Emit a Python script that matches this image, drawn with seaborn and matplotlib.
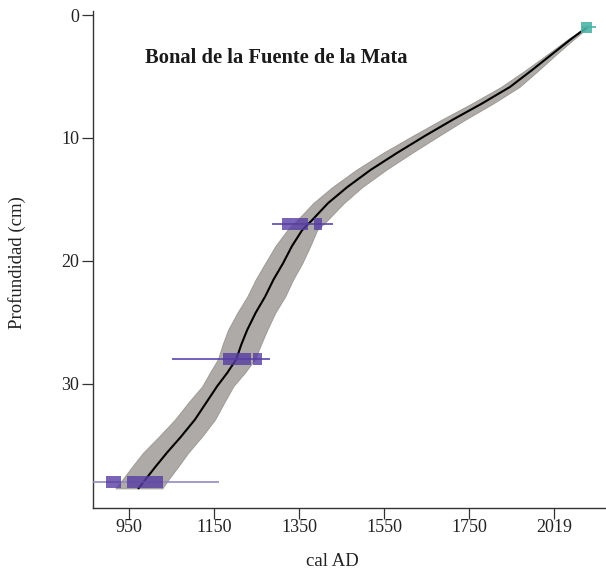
import matplotlib
matplotlib.use("Agg")
import numpy as np
import pandas as pd
import matplotlib.pyplot as plt
import seaborn as sns

# age-depth model
model_depth = [1.0, 2.0, 3.1, 4.5, 5.85, 7.2, 8.5, 9.85, 11.2, 12.6, 14.0, 15.3, 16.7, 17.5,
               18.8, 20.2, 21.5, 22.9, 24.2, 25.6, 26.8, 28.0, 29.1, 30.2, 31.5, 32.9,
               34.3, 35.6, 36.7, 37.8, 38.5]
model_median = [2027, 1988, 1948, 1897, 1846, 1780, 1712, 1645, 1581, 1518, 1463, 1418, 1380, 1357,
                1333, 1312, 1290, 1270, 1248, 1228, 1214, 1202, 1181, 1157, 1132, 1105,
                1072, 1039, 1013, 988, 972]
model_lo = [2024, 1981, 1938, 1882, 1825, 1756, 1686, 1616, 1548, 1484, 1428, 1383, 1345, 1322,
            1294, 1270, 1248, 1228, 1205, 1183, 1170, 1159, 1140, 1122, 1090, 1058,
            1020, 983, 958, 934, 918]
model_hi = [2030, 1995, 1958, 1913, 1868, 1806, 1741, 1678, 1616, 1554, 1498, 1455, 1416, 1392,
            1376, 1357, 1336, 1317, 1294, 1275, 1260, 1246, 1222, 1195, 1174, 1152,
            1121, 1089, 1066, 1042, 1028]

# radiocarbon dates
date_depth = [17, 28, 38]
date_range_lo = [1286, 1051, 860]
date_range_hi = [1430, 1282, 1162]
date_box1 = [(1310, 1371), (1171, 1237), (896, 931)]
date_box2 = [(1385, 1404), (1242, 1263), (945, 1030)]

surface_depth = 1.0
surface_year = 2027

x_ticks = [950, 1150, 1350, 1550, 1750, 1950]
x_tick_labels = ["950", "1150", "1350", "1550", "1750", "2019"]
y_ticks = [0, 10, 20, 30]

sns.set_style("ticks")
plt.rcParams['font.family'] = ['Liberation Serif', 'DejaVu Serif']

fig = plt.figure(figsize=(6.06, 5.72), dpi=100)
ax = fig.add_axes([93 / 606, 1 - 508 / 572, 1 - 93 / 606, (508 - 11) / 572])

model = pd.DataFrame({"depth": model_depth, "median": model_median,
                      "lo": model_lo, "hi": model_hi})

ax.fill_betweenx(model["depth"], model["lo"], model["hi"],
                 facecolor="#adaaa7", edgecolor="#9d9995", lw=0.7, zorder=1)
sns.lineplot(data=model, x="median", y="depth", orient="y", sort=False,
             color="black", lw=1.5, ax=ax, zorder=3)

# dates: calibrated range lines and probability boxes
line_colors = ["#5a44b0", "#5a44b0", "#9489c0"]
ax.hlines(date_depth, date_range_lo, date_range_hi, colors=line_colors, lw=1.2, zorder=4)
for d, b1, b2 in zip(date_depth, date_box1, date_box2):
    for lo, hi in (b1, b2):
        ax.barh(d, hi - lo, left=lo, height=0.95, color="#573da3", alpha=0.8,
                lw=0, zorder=5)

# surface point
ax.hlines(surface_depth, surface_year - 12, surface_year + 22, colors="#4db3a6", lw=1.2, zorder=5)
sns.scatterplot(x=[surface_year], y=[surface_depth], marker="s", s=65,
                color="#4db3a6", alpha=0.9, edgecolor="none", ax=ax, zorder=6)

ax.set_xlim(865, 2072)
ax.set_ylim(40.1, -0.33)
ax.set_xticks(x_ticks)
ax.set_xticklabels(x_tick_labels)
ax.set_yticks(y_ticks)

for side in ["top", "right"]:
    ax.spines[side].set_visible(False)
for side in ["left", "bottom"]:
    ax.spines[side].set_color("#333333")
    ax.spines[side].set_linewidth(1.0)
ax.tick_params(direction="out", length=8, width=0.9, colors="#333333",
               labelcolor="#222222", labelsize=13, pad=2)
ax.tick_params(axis="x", pad=0)

ax.set_xlabel("cal AD", fontsize=13.5, color="#222222")
ax.xaxis.set_label_coords((332 - 93) / 513, (508 - 553) / 497)
ax.set_ylabel("Profundidad (cm)", fontsize=13.5, color="#222222")
ax.yaxis.set_label_coords((26 - 93) / 513, (508 - 263) / 497)

ax.text((145 - 93) / 513, (508 - 58) / 497, "Bonal de la Fuente de la Mata",
        transform=ax.transAxes, fontsize=14.8, fontweight="bold",
        color="#1a1a1a", ha="left", va="center")

fig.savefig("out.png", dpi=100)
